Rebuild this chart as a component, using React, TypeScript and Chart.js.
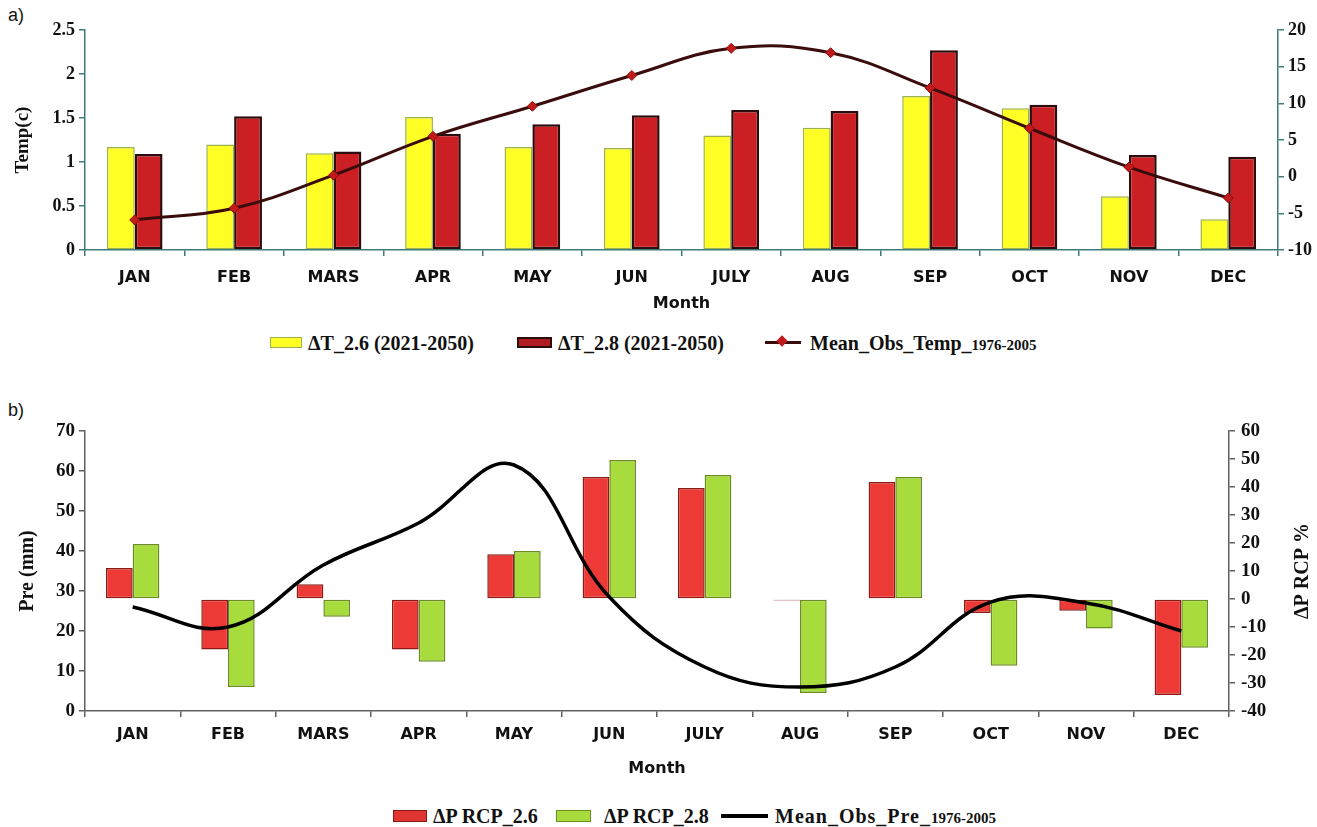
import React, { useEffect, useRef } from "react";
import { Chart, registerables } from "chart.js";

Chart.register(...registerables);

const months = ["JAN", "FEB", "MARS", "APR", "MAY", "JUN", "JULY", "AUG", "SEP", "OCT", "NOV", "DEC"];

// Chart a) temperature
const dT26 = [1.17, 1.2, 1.1, 1.51, 1.17, 1.16, 1.3, 1.39, 1.75, 1.61, 0.61, 0.35];
const dT28 = [1.09, 1.52, 1.12, 1.32, 1.43, 1.53, 1.59, 1.58, 2.27, 1.65, 1.08, 1.06];
const meanObsTemp = [-5.9, -4.3, 0.2, 5.5, 9.6, 13.8, 17.5, 16.9, 12.1, 6.6, 1.3, -2.9];

// Chart b) precipitation
const dP26 = [11.1, -18, 5.3, -18, 16, 43.6, 39.6, -0.5, 41.8, -5, -4.2, -34.3];
const dP28 = [19.6, -31.4, -6.3, -22.4, 17.1, 49.6, 44.3, -33.6, 43.6, -23.8, -10.5, -17.4];
const meanObsPre = [26, 21, 36.5, 47, 61.5, 28.5, 11, 6, 11, 27.2, 27, 20];

const SERIF = '"Liberation Serif", "Times New Roman", serif';
const SANS = '"DejaVu Sans", Verdana, sans-serif';
const TEAL = "#3d7a7a";
const GRAY = "#606060";

const fmt = (v: any) => String(Number(v));

const rightTitlePlugin = {
  id: "rightTitle",
  afterDraw(chart: any, _args: any, opts: any) {
    if (!opts || !opts.text) return;
    const { ctx, chartArea, width } = chart;
    ctx.save();
    ctx.translate(width - opts.fromRight, (chartArea.top + chartArea.bottom) / 2);
    ctx.rotate(-Math.PI / 2);
    ctx.font = opts.font;
    ctx.fillStyle = "#111";
    ctx.textAlign = "center";
    ctx.textBaseline = "middle";
    ctx.fillText(opts.text, 0, 0);
    ctx.restore();
  },
};

export default function App() {
  const refA = useRef<HTMLCanvasElement>(null);
  const refB = useRef<HTMLCanvasElement>(null);

  useEffect(() => {
    document.body.style.margin = "0";
    const tickFontY = { family: SERIF, weight: "bold" as const, size: 18 };
    const tickFontX = { family: SANS, weight: "bold" as const, size: 16 };

    const chartA = new Chart(refA.current!, {
      type: "bar",
      data: {
        labels: months,
        datasets: [
          {
            type: "line" as const,
            label: "Mean_Obs_Temp_1976-2005",
            data: meanObsTemp,
            yAxisID: "y1",
            borderColor: "#3a0c0c",
            borderWidth: 3,
            tension: 0.4,
            pointStyle: "rectRot",
            pointRadius: 5,
            pointBackgroundColor: "#c21a1a",
            pointBorderColor: "#8a0d0d",
            pointBorderWidth: 1,
            order: 0,
          } as any,
          {
            label: "ΔT_2.6 (2021-2050)",
            data: dT26,
            yAxisID: "y",
            backgroundColor: "#ffff26",
            borderColor: "#9cb24a",
            borderWidth: 1.5,
            borderSkipped: false,
            categoryPercentage: 0.56,
            barPercentage: 1,
            order: 1,
          },
          {
            label: "ΔT_2.8 (2021-2050)",
            data: dT28,
            yAxisID: "y",
            backgroundColor: "#cc1f24",
            borderColor: "#2b0d0d",
            borderWidth: 2.5,
            borderSkipped: false,
            categoryPercentage: 0.56,
            barPercentage: 1,
            order: 1,
          },
        ],
      },
      options: {
        animation: false,
        responsive: false,
        layout: { padding: { top: 30, left: 0, right: 0, bottom: 0 } },
        plugins: { legend: { display: false }, tooltip: { enabled: false } },
        scales: {
          x: {
            grid: { display: true, drawOnChartArea: false, drawTicks: true, tickLength: 6, color: TEAL, lineWidth: 1.5, offset: true },
            border: { display: true, color: TEAL, width: 1.5 },
            ticks: { font: tickFontX, color: "#111", padding: 12, maxRotation: 0, autoSkip: false },
            title: { display: true, text: "Month", color: "#111", font: { family: SANS, weight: "bold", size: 16 }, padding: { top: 0, bottom: 7 } },
            afterFit: (s: any) => { s.height = 70; },
          },
          y: {
            position: "left",
            min: 0,
            max: 2.5,
            ticks: { stepSize: 0.5, font: tickFontY, color: "#111", padding: 4, callback: fmt },
            grid: { drawOnChartArea: false, tickLength: 6, color: TEAL, lineWidth: 1.5 },
            border: { color: TEAL, width: 1.5 },
            title: { display: true, text: "Temp(c)", color: "#111", font: { family: SERIF, weight: "bold", size: 19 }, padding: { top: 12, bottom: 0 } },
            afterFit: (s: any) => { s.width = 85; },
          },
          y1: {
            position: "right",
            min: -10,
            max: 20,
            ticks: { stepSize: 5, font: tickFontY, color: "#111", padding: 4, callback: fmt },
            grid: { drawOnChartArea: false, tickLength: 6, color: TEAL, lineWidth: 1.5 },
            border: { color: TEAL, width: 1.5 },
            afterFit: (s: any) => { s.width = 39; },
          },
        },
      } as any,
    });

    const chartB = new Chart(refB.current!, {
      type: "bar",
      plugins: [rightTitlePlugin],
      data: {
        labels: months,
        datasets: [
          {
            type: "line" as const,
            label: "Mean_Obs_Pre_1976-2005",
            data: meanObsPre,
            yAxisID: "y",
            borderColor: "#000000",
            borderWidth: 3.5,
            tension: 0.4,
            pointRadius: 0,
            order: 0,
          } as any,
          {
            label: "ΔP RCP_2.6",
            data: dP26,
            yAxisID: "y1",
            backgroundColor: "#ee3a36",
            borderColor: "#8a1a14",
            borderWidth: 1.5,
            borderSkipped: false,
            categoryPercentage: 0.56,
            barPercentage: 1,
            order: 1,
          },
          {
            label: "ΔP RCP_2.8",
            data: dP28,
            yAxisID: "y1",
            backgroundColor: "#a8dc3c",
            borderColor: "#6b8c22",
            borderWidth: 1.5,
            borderSkipped: false,
            categoryPercentage: 0.56,
            barPercentage: 1,
            order: 1,
          },
        ],
      },
      options: {
        animation: false,
        responsive: false,
        layout: { padding: { top: 31, left: 0, right: 0, bottom: 0 } },
        plugins: {
          legend: { display: false },
          tooltip: { enabled: false },
          rightTitle: { text: "ΔP RCP %", font: `bold 20px ${SERIF}`, fromRight: 14 },
        },
        scales: {
          x: {
            grid: { display: true, drawOnChartArea: false, drawTicks: true, tickLength: 6, color: GRAY, lineWidth: 1.5, offset: true },
            border: { display: true, color: GRAY, width: 1.5 },
            ticks: { font: tickFontX, color: "#111", padding: 8, maxRotation: 0, autoSkip: false },
            title: { display: true, text: "Month", color: "#111", font: { family: SANS, weight: "bold", size: 16 }, padding: { top: 0, bottom: 7 } },
            afterFit: (s: any) => { s.height = 74; },
          },
          y: {
            position: "left",
            min: 0,
            max: 70,
            ticks: { stepSize: 10, font: { family: SERIF, weight: "bold", size: 19 }, color: "#111", padding: 4, callback: fmt },
            grid: { drawOnChartArea: false, tickLength: 6, color: GRAY, lineWidth: 1.5 },
            border: { color: GRAY, width: 1.5 },
            title: { display: true, text: "Pre (mm)", color: "#111", font: { family: SERIF, weight: "bold", size: 20 }, padding: { top: 16, bottom: 0 } },
            afterFit: (s: any) => { s.width = 85; },
          },
          y1: {
            position: "right",
            min: -40,
            max: 60,
            ticks: { stepSize: 10, font: { family: SERIF, weight: "bold", size: 19 }, color: "#111", padding: 6, callback: fmt },
            grid: { drawOnChartArea: false, tickLength: 6, color: GRAY, lineWidth: 1.5 },
            border: { color: GRAY, width: 1.5 },
            afterFit: (s: any) => { s.width = 88; },
          },
        },
      } as any,
    });

    return () => {
      chartA.destroy();
      chartB.destroy();
    };
  }, []);

  const legendText: React.CSSProperties = {
    position: "absolute",
    fontFamily: SERIF,
    fontWeight: "bold",
    fontSize: 20,
    color: "#111",
    whiteSpace: "nowrap",
    lineHeight: "22px",
  };
  const sub: React.CSSProperties = { fontSize: 15 };

  return (
    <div style={{ position: "absolute", left: 0, top: 0, width: 1317, height: 827, background: "#fff", overflow: "hidden" }}>
      <div style={{ position: "absolute", left: 8, top: 5, fontFamily: '"Liberation Sans", Arial, sans-serif', fontSize: 18, color: "#111" }}>a)</div>
      <canvas ref={refA} width={1317} height={320} style={{ position: "absolute", left: 0, top: 0, width: 1317, height: 320 }} />

      {/* legend a */}
      <div style={{ position: "absolute", left: 270, top: 337, width: 32, height: 11, background: "#ffff26", border: "1px solid #9cb24a", boxSizing: "border-box" }} />
      <div style={{ ...legendText, left: 308, top: 332 }}>ΔT_2.6 (2021-2050)</div>
      <div style={{ position: "absolute", left: 517, top: 337, width: 35, height: 11, background: "#b01c20", border: "2px solid #2b0d0d", boxSizing: "border-box" }} />
      <div style={{ ...legendText, left: 558, top: 332 }}>ΔT_2.8 (2021-2050)</div>
      <div style={{ position: "absolute", left: 765, top: 341, width: 36, height: 3, background: "#3a0c0c" }} />
      <div style={{ position: "absolute", left: 778, top: 337, width: 8, height: 8, background: "#c21a1a", transform: "rotate(45deg)" }} />
      <div style={{ ...legendText, left: 810, top: 332 }}>
        Mean_Obs_Temp_<span style={sub}>1976-2005</span>
      </div>

      <div style={{ position: "absolute", left: 8, top: 400, fontFamily: '"Liberation Sans", Arial, sans-serif', fontSize: 18, color: "#111" }}>b)</div>
      <canvas ref={refB} width={1317} height={385} style={{ position: "absolute", left: 0, top: 400, width: 1317, height: 385 }} />

      {/* legend b */}
      <div style={{ position: "absolute", left: 393, top: 810, width: 34, height: 12, background: "#e03530", border: "1.5px solid #8a1a14", boxSizing: "border-box" }} />
      <div style={{ ...legendText, left: 433, top: 805 }}>ΔP RCP_2.6</div>
      <div style={{ position: "absolute", left: 556, top: 810, width: 35, height: 12, background: "#a8dc3c", border: "1.5px solid #6b8c22", boxSizing: "border-box" }} />
      <div style={{ ...legendText, left: 604, top: 805 }}>ΔP RCP_2.8</div>
      <div style={{ position: "absolute", left: 721, top: 814, width: 47, height: 4, background: "#000" }} />
      <div style={{ ...legendText, left: 775, top: 805, letterSpacing: 1 }}>
        Mean_Obs_Pre_<span style={{ ...sub, letterSpacing: 0 }}>1976-2005</span>
      </div>
    </div>
  );
}
